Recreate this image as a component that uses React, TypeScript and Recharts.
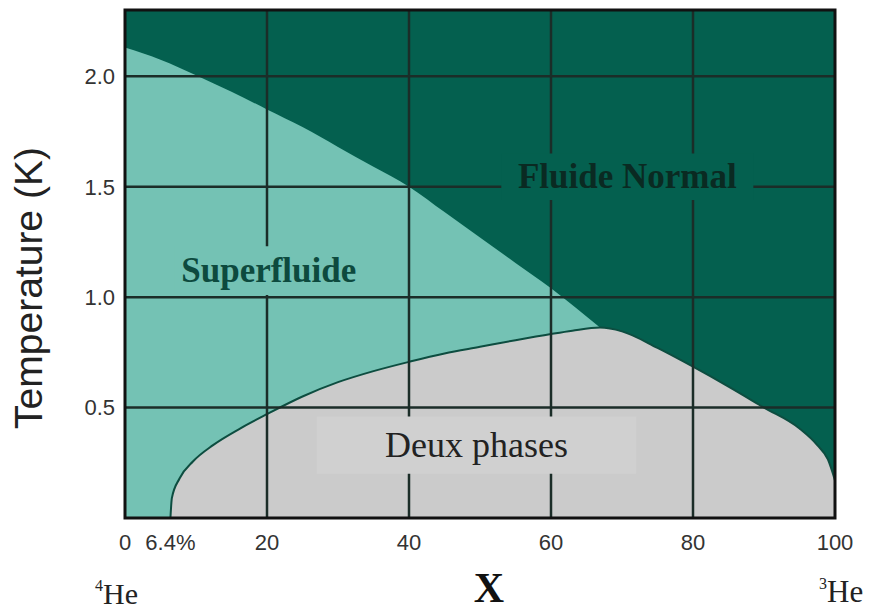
import { ComposedChart, Area, XAxis, YAxis, CartesianGrid, ReferenceLine, ReferenceArea } from "recharts";

// Ligne lambda (transition superfluide) : fraction de 3He (%) / température (K)
const lambdaX = [0, 5, 10, 15, 20, 25, 30, 35, 40, 45, 50, 55, 60, 66.9];
const lambdaT = [2.13, 2.075, 2.005, 1.93, 1.85, 1.77, 1.68, 1.59, 1.5, 1.385, 1.27, 1.155, 1.04, 0.862];

// Courbe de séparation de phase (dôme "Deux phases")
const domeX = [6.4, 6.6, 7.7, 9.6, 12.4, 16.2, 20, 25, 30, 35, 40, 45, 50, 55, 60, 63, 66.9, 70, 75, 80, 85, 90, 95, 97.5, 99, 100];
const domeT = [0, 0.09, 0.18, 0.257, 0.33, 0.405, 0.47, 0.55, 0.615, 0.665, 0.707, 0.745, 0.775, 0.805, 0.833, 0.848, 0.862, 0.845, 0.77, 0.685, 0.595, 0.5, 0.405, 0.33, 0.265, 0.17];

const xTicks = [0, 6.4, 20, 40, 60, 80, 100];
const yTicks = [0.5, 1.0, 1.5, 2.0];
const gridX = [20, 40, 60, 80];
const gridY = [0.5, 1.0, 1.5, 2.0];

const lambdaData = lambdaX.map((x, i) => ({ x, t: lambdaT[i] }));
const domeData = domeX.map((x, i) => ({ x, t: domeT[i] }));

const DARK = "#04604f";
const TEAL = "#74c2b4";
const GREY = "#cbcbcb";
const GRID = "#1b2d28";
const SERIF = "'Liberation Serif', 'Times New Roman', serif";
const SANS = "'Liberation Sans', Arial, sans-serif";

function regionLabel(text: string, color: string, size: number, weight: number) {
  return (props: any) => {
    const vb = props.viewBox || {};
    const cx = vb.x + vb.width / 2;
    const cy = vb.y + vb.height / 2;
    return (
      <text x={cx} y={cy + size * 0.33} textAnchor="middle" fill={color}
        fontFamily={SERIF} fontSize={size} fontWeight={weight}>
        {text}
      </text>
    );
  };
}

const yLabel = () => (
  <text x={34} y={280} transform="rotate(-90 34 280)" textAnchor="middle" fill="#222"
    fontFamily={SANS} fontSize={39}>
    Temperature (K)
  </text>
);

const xLabel = () => (
  <g>
    <text x={481} y={594} textAnchor="middle" fill="#111" fontFamily={SERIF} fontSize={42} fontWeight={700}>
      X
    </text>
    <text x={87} y={596} fill="#222" fontFamily={SERIF}>
      <tspan fontSize={16} dy={-13}>4</tspan>
      <tspan fontSize={30} dy={13}>He</tspan>
    </text>
    <text x={811} y={594} fill="#222" fontFamily={SERIF}>
      <tspan fontSize={16} dy={-13}>3</tspan>
      <tspan fontSize={31} dy={13}>He</tspan>
    </text>
  </g>
);

export default function App() {
  return (
    <ComposedChart width={869} height={604} margin={{ top: 2, right: 42, bottom: 54, left: 37 }}>
      <CartesianGrid fill={DARK} horizontal={false} vertical={false} />
      <XAxis type="number" dataKey="x" domain={[0, 100]} ticks={xTicks} allowDataOverflow
        tickFormatter={(v: number) => (v === 6.4 ? "6.4%" : String(v))}
        axisLine={false} tickLine={false} tickSize={0} tickMargin={16} height={40}
        tick={{ fill: "#333", fontSize: 22, fontFamily: SANS }} label={{ content: xLabel }} />
      <YAxis type="number" domain={[0, 2.3]} ticks={yTicks} allowDataOverflow
        tickFormatter={(v: number) => v.toFixed(1)}
        axisLine={false} tickLine={false} tickSize={0} tickMargin={10} width={80}
        tick={{ fill: "#333", fontSize: 22, fontFamily: SANS }} label={{ content: yLabel }} />
      <Area data={lambdaData} dataKey="t" type="monotone" fill={TEAL} fillOpacity={1}
        stroke="none" isAnimationActive={false} />
      <Area data={domeData} dataKey="t" type="monotone" fill={GREY} fillOpacity={1}
        stroke="#0d4d40" strokeWidth={2} isAnimationActive={false} />
      {gridX.map((x) => (
        <ReferenceLine key={"gx" + x} x={x} stroke={GRID} strokeWidth={2.5} zIndex={450} />
      ))}
      {gridY.map((y) => (
        <ReferenceLine key={"gy" + y} y={y} stroke={GRID} strokeWidth={2.5} zIndex={450} />
      ))}
      <ReferenceArea x1={53} x2={88.5} y1={1.44} y2={1.65} fill={DARK} fillOpacity={1} stroke="none"
        zIndex={600} label={regionLabel("Fluide Normal", "#0a2a22", 35, 700)} />
      <ReferenceArea x1={7} x2={33.5} y1={1.01} y2={1.23} fill={TEAL} fillOpacity={1} stroke="none"
        zIndex={600} label={regionLabel("Superfluide", "#0d4a3e", 35, 700)} />
      <ReferenceArea x1={27} x2={72} y1={0.2} y2={0.46} fill="#d0d0d0" fillOpacity={1} stroke="none"
        zIndex={600} label={regionLabel("Deux phases", "#222", 36, 400)} />
      <ReferenceArea x1={0} x2={100} y1={0} y2={2.3} fill="none" stroke="#111" strokeWidth={3} zIndex={700} />
    </ComposedChart>
  );
}
